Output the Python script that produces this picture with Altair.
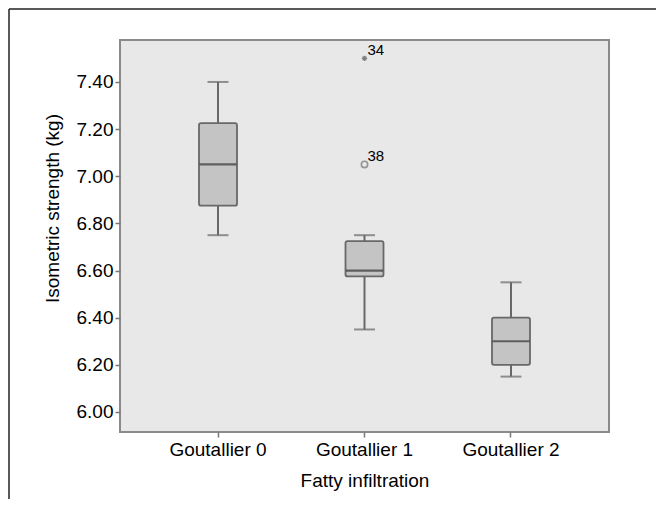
import altair as alt
import pandas as pd

categories = ["Goutallier 0", "Goutallier 1", "Goutallier 2"]
whisker_low = [6.75, 6.35, 6.15]
q1 = [6.875, 6.575, 6.20]
median = [7.05, 6.60, 6.30]
q3 = [7.225, 6.725, 6.40]
whisker_high = [7.40, 6.75, 6.55]

outlier_cat = ["Goutallier 1", "Goutallier 1"]
outlier_val = [7.50, 7.05]
outlier_label = ["34", "38"]
outlier_kind = ["extreme", "mild"]

y_ticks = [6.0, 6.2, 6.4, 6.6, 6.8, 7.0, 7.2, 7.4]

box_df = pd.DataFrame({
    "cat": categories, "lo": whisker_low, "q1": q1, "med": median,
    "q3": q3, "hi": whisker_high,
})
out_df = pd.DataFrame({
    "cat": outlier_cat, "val": outlier_val, "label": outlier_label, "kind": outlier_kind,
})

FONT = "Liberation Sans"
x_enc = alt.X("cat:N", sort=categories, title="Fatty infiltration",
              scale=alt.Scale(paddingInner=0, paddingOuter=0.169),
              axis=alt.Axis(labelAngle=0, labelFontSize=19, titleFontSize=19,
                            labelColor="black", titleColor="black", tickColor="#777777",
                            tickSize=5, tickWidth=1.5, labelPadding=3, titlePadding=12,
                            domain=False, titleFontWeight="normal"))
y_scale = alt.Scale(domain=[5.915, 7.578], nice=False, zero=False)
y_axis = alt.Axis(values=y_ticks, format=".2f", labelFontSize=19, titleFontSize=19,
                  labelColor="black", titleColor="black", tickColor="#777777",
                  tickSize=5, tickWidth=1.5, labelPadding=2, titlePadding=14,
                  titleY=168, domain=False, grid=False, titleFontWeight="normal")

base = alt.Chart(box_df)

whisk = base.mark_rule(color="#686868", strokeWidth=2).encode(
    x=x_enc,
    y=alt.Y("lo:Q", scale=y_scale, axis=y_axis, title="Isometric strength (kg)"),
    y2="hi:Q",
)
box = base.mark_bar(size=38, fill="#c4c4c4", stroke="#686868", strokeWidth=1.8,
                    cornerRadius=2).encode(
    x=alt.X("cat:N", sort=categories),
    y=alt.Y("q1:Q"), y2="q3:Q",
)
med = base.mark_tick(size=37, thickness=2.2, color="#333333").encode(
    x=alt.X("cat:N", sort=categories), y=alt.Y("med:Q"),
)
cap_lo = base.mark_tick(size=21, thickness=2, color="#686868").encode(
    x=alt.X("cat:N", sort=categories), y=alt.Y("lo:Q"),
)
cap_hi = base.mark_tick(size=21, thickness=2, color="#686868").encode(
    x=alt.X("cat:N", sort=categories), y=alt.Y("hi:Q"),
)

out_base = alt.Chart(out_df)
mild = out_base.transform_filter(alt.datum.kind == "mild").mark_point(
    shape="circle", size=40, filled=False, color="#707070", strokeWidth=1.6).encode(
    x=alt.X("cat:N", sort=categories), y=alt.Y("val:Q"),
)
ext = out_base.transform_filter(alt.datum.kind == "extreme").mark_point(
    shape="M-1,0L1,0M0,-1L0,1M-0.7,-0.7L0.7,0.7M-0.7,0.7L0.7,-0.7",
    size=28, filled=False, color="#555555", strokeWidth=1.2).encode(
    x=alt.X("cat:N", sort=categories), y=alt.Y("val:Q"),
)
labels = out_base.mark_text(align="left", baseline="middle", dx=3, dy=-8,
                            fontSize=15, font=FONT, color="black").encode(
    x=alt.X("cat:N", sort=categories), y=alt.Y("val:Q"), text="label:N",
)

frame_df = pd.DataFrame({"a": [0]})
frame_top = alt.Chart(frame_df).mark_rule(color="#222222", strokeWidth=1.5).encode(
    x=alt.value(-111), x2=alt.value(536), y=alt.value(-31), y2=alt.value(-31))
frame_left = alt.Chart(frame_df).mark_rule(color="#222222", strokeWidth=1.5).encode(
    x=alt.value(-111), x2=alt.value(-111), y=alt.value(-31), y2=alt.value(470))

chart = alt.layer(frame_top, frame_left, whisk, box, med, cap_lo, cap_hi, mild, ext, labels).properties(
    width=489, height=392,
    autosize=alt.AutoSizeParams(type="none"),
    padding={"left": 112, "top": 32, "right": 47, "bottom": 67},
    background="white",
).configure(
    font=FONT,
).configure_view(
    fill="#e8e8e9", stroke="#8a8a8a", strokeWidth=2,
)

chart.save("out.html", embed_options={"renderer": "svg", "actions": False})
